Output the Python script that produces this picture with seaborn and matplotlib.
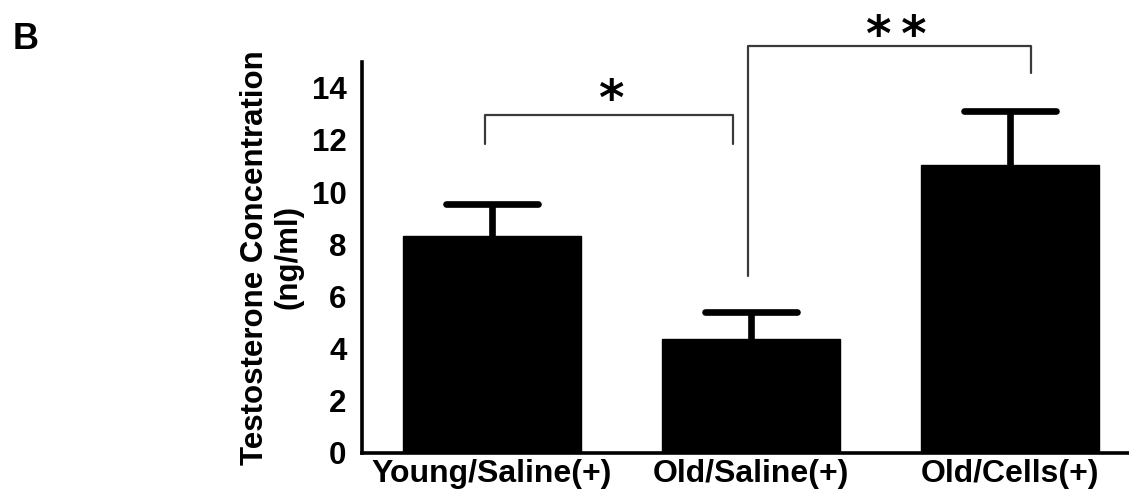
import matplotlib
matplotlib.use("Agg")
import matplotlib.pyplot as plt
import seaborn as sns
import pandas as pd
import numpy as np

# Data
groups = ["Young/Saline(+)", "Old/Saline(+)", "Old/Cells(+)"]
means = [8.30, 4.36, 11.03]
sem = [1.25, 1.06, 2.07]
y_ticks = [0, 2, 4, 6, 8, 10, 12, 14]

sns.set_theme(style="white")
plt.rcParams['font.family'] = ['Liberation Sans', 'DejaVu Sans']
plt.rcParams['font.weight'] = 'bold'
plt.rcParams['text.color'] = 'black'
plt.rcParams['axes.labelcolor'] = 'black'
plt.rcParams['xtick.color'] = 'black'
plt.rcParams['ytick.color'] = 'black'

df = pd.DataFrame({"group": groups, "value": means})

fig = plt.figure(figsize=(11.29, 4.92), dpi=100)
ax = fig.add_axes([0.3204, 0.0793, 0.6796, 0.7953])

sns.barplot(data=df, x="group", y="value", color="black", width=0.69,
            errorbar=None, ax=ax, saturation=1, edgecolor="black")

xpos = np.arange(len(groups))
upper = np.array(means) + np.array(sem)
ax.vlines(xpos, means, upper, color="black", lw=4.8, zorder=1)
ax.hlines(upper, xpos - 0.178, xpos + 0.178, color="black", lw=4.8,
          capstyle="round", zorder=1)

ax.set_ylim(0, 15)
ax.set_xlim(-0.503, 2.46)
ax.set_yticks(y_ticks)
ax.set_yticklabels([str(t) for t in y_ticks], fontsize=22.5, fontweight="bold",
                   color="black")
ax.set_xticks(xpos)
ax.set_xticklabels(groups, fontsize=23, fontweight="bold", color="black")
ax.tick_params(axis="y", length=9, width=2.5, color="black", pad=2)
ax.tick_params(axis="x", length=0, pad=4)
for s in ["top", "right"]:
    ax.spines[s].set_visible(False)
for s in ["left", "bottom"]:
    ax.spines[s].set_linewidth(2.6)
    ax.spines[s].set_color("black")
ax.spines["bottom"].set_zorder(5)
ax.set_xlabel("")
ax.set_ylabel("Testosterone Concentration\n(ng/ml)", fontsize=22.5,
              fontweight="bold", labelpad=6, linespacing=1.15, color="black")

# significance brackets
bc = "#3a3a3a"
ax.plot([-0.027, -0.027, 0.932, 0.932], [11.86, 12.95, 12.95, 11.86],
        color=bc, lw=1.6, clip_on=False)
ax.plot([0.99, 0.99, 2.08, 2.08], [6.8, 15.6, 15.6, 14.55],
        color=bc, lw=1.6, clip_on=False)
ax.text(0.462, 13.49, "*", fontsize=35, fontweight="bold", ha="center",
        va="center", family="DejaVu Sans", color="black")
ax.text(1.563, 15.95, "*\u2009*", fontsize=35, fontweight="bold", ha="center",
        va="center", family="DejaVu Sans", color="black")

fig.text(0.011, 0.955, "B", fontsize=26, fontweight="bold", va="top", ha="left",
         color="black")

fig.savefig("out.png", dpi=100, facecolor="white")
